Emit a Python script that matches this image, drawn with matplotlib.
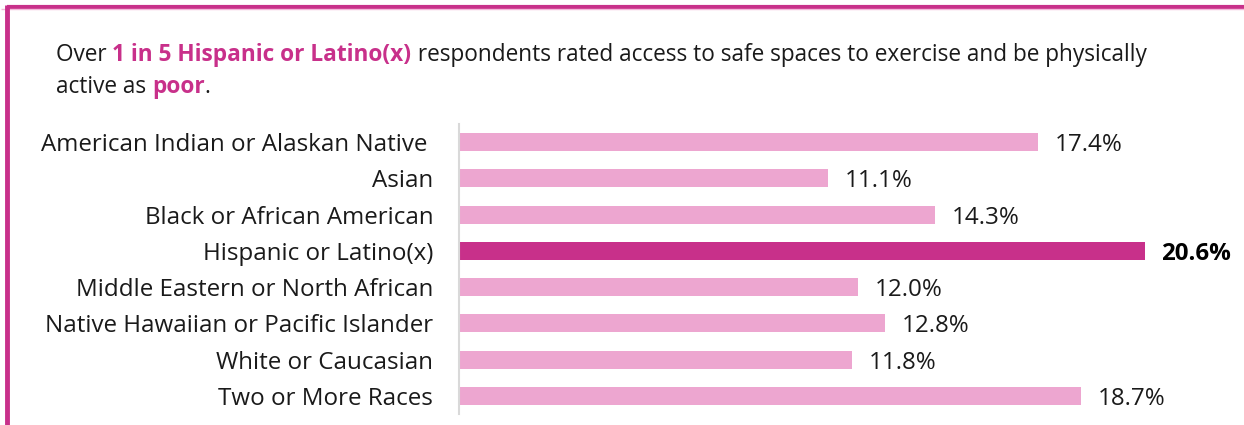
import matplotlib
matplotlib.use("Agg")
import matplotlib.pyplot as plt
from matplotlib.lines import Line2D

categories = [
    "American Indian or Alaskan Native ",
    "Asian",
    "Black or African American",
    "Hispanic or Latino(x)",
    "Middle Eastern or North African",
    "Native Hawaiian or Pacific Islander",
    "White or Caucasian",
    "Two or More Races",
]
values = [17.4, 11.1, 14.3, 20.6, 12.0, 12.8, 11.8, 18.7]
highlight = "Hispanic or Latino(x)"

title_line1 = [
    ("Over ", "normal", "#1a1a1a"),
    ("1 in 5 Hispanic or Latino(x)", "bold", "#C8308A"),
    (" respondents rated access to safe spaces to exercise and be physically", "normal", "#1a1a1a"),
]
title_line2 = [
    ("active as ", "normal", "#1a1a1a"),
    ("poor", "bold", "#C8308A"),
    (".", "normal", "#1a1a1a"),
]

LIGHT = "#EDA6D0"
DARK = "#C8308A"
TEXT = "#1a1a1a"
FONT = "Open Sans"
plt.rcParams["font.family"] = [FONT, "DejaVu Sans"]

LABEL_SIZE = 17.4
TITLE_SIZE = 16.3

W, H = 1244, 425
fig = plt.figure(figsize=(W / 100, H / 100), dpi=100)

# axes placed in pixel terms
ax_left, ax_right = 459, 1244
ax_top, ax_bottom = 124, 414
ax = fig.add_axes([ax_left / W, (H - ax_bottom) / H,
                   (ax_right - ax_left) / W, (ax_bottom - ax_top) / H])

px_per_unit = 33.28
ax.set_xlim(0, (ax_right - ax_left) / px_per_unit)
ax.set_ylim(len(categories) - 0.5, -0.5)

ypos = list(range(len(categories)))
colors = [DARK if c == highlight else LIGHT for c in categories]
ax.barh(ypos, values, height=0.5, color=colors, edgecolor="none")

for y, v, c in zip(ypos, values, categories):
    ax.text(v + 0.5, y, f"{v:.1f}%", va="center_baseline", ha="left",
            fontsize=LABEL_SIZE, color="black" if c == highlight else TEXT,
            fontweight="bold" if c == highlight else "normal")

ax.set_yticks(ypos)
ax.set_yticklabels(categories, fontsize=LABEL_SIZE, color=TEXT)
ax.tick_params(axis="y", length=0, pad=18.5)
ax.set_xticks([])
for s in ["top", "right", "bottom"]:
    ax.spines[s].set_visible(False)
ax.spines["left"].set_color("#d9d9d9")
ax.spines["left"].set_linewidth(1.5)

# frame lines (top and left) in pixel coordinates
fig.add_artist(Line2D([7 / W, 1], [1 - 6.5 / H, 1 - 6.5 / H], color=DARK, lw=3,
                      transform=fig.transFigure, solid_capstyle="butt"))
fig.add_artist(Line2D([1 / W, 1], [1 - 9 / H, 1 - 9 / H], color="#F4B8DA", lw=1,
                      transform=fig.transFigure, solid_capstyle="butt"))
fig.add_artist(Line2D([7 / W, 7 / W], [0, 1 - 5 / H], color=DARK, lw=3.5,
                      transform=fig.transFigure, solid_capstyle="butt"))

# rich title built piece by piece
renderer = fig.canvas.get_renderer()

def draw_line(pieces, x0, y_base):
    x = x0
    for txt, weight, col in pieces:
        t = fig.text(x / W, 1 - y_base / H, txt, fontsize=TITLE_SIZE, fontweight=weight,
                     color=col, va="baseline", ha="left")
        bb = t.get_window_extent(renderer)
        x = x + bb.width

draw_line(title_line1, 56, 61)
draw_line(title_line2, 56, 93)

fig.savefig("out.png", dpi=100)
